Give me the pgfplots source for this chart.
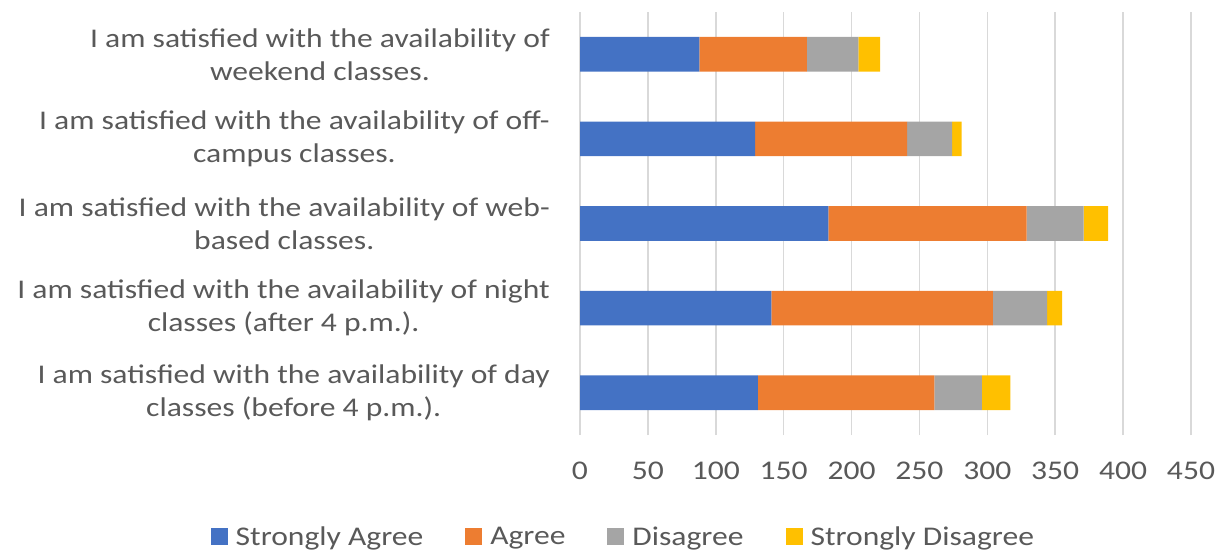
\documentclass[border=0pt]{standalone}
\usepackage{fontspec}
\setmainfont{Carlito}[FakeStretch=1.17]
\usepackage{pgfplots}
\pgfplotsset{compat=1.18}
\definecolor{cA}{HTML}{4472C4}
\definecolor{cB}{HTML}{ED7D31}
\definecolor{cC}{HTML}{A5A5A5}
\definecolor{cD}{HTML}{FFC000}
\definecolor{txt}{HTML}{595959}
\definecolor{grd}{HTML}{D9D9D9}
\begin{document}
\begin{tikzpicture}
\useasboundingbox (0,0) rectangle (1228bp,552bp);
\begin{axis}[
  at={(580bp,117bp)}, anchor=south west,
  scale only axis, width=611bp, height=423bp,
  xbar stacked, bar width=0.41,
  xmin=0, xmax=450, ymin=-0.5, ymax=4.5,
  xtick={0,50,...,450},
  ytick={0,1,2,3,4},
  yticklabels={
    {I am satisfied with the availability of day\\classes (before 4 p.m.).},
    {I am satisfied with the availability of night\\classes (after 4 p.m.).},
    {I am satisfied with the availability of web-\\based classes.},
    {I am satisfied with the availability of off-\\campus classes.},
    {I am satisfied with the availability of\\weekend classes.}},
  /pgf/number format/assume math mode=true,
  font=\fontsize{27bp}{33bp}\selectfont,
  every tick label/.append style={text=txt},
  yticklabel style={align=center, anchor=east, inner sep=0pt, xshift=-30bp},
  xticklabel style={anchor=north, inner sep=0pt, yshift=-27bp},
  axis line style={draw=none},
  tick style={draw=none},
  xmajorgrids, ymajorgrids=false,
  major grid style={grd, line width=1.5bp},
  legend columns=4,
  legend style={draw=none, fill=none, at={(axis description cs:0.071,-0.241)}, anchor=center,
    font=\fontsize{27bp}{33bp}\selectfont, text=txt,
    /tikz/every even column/.append style={column sep=40bp}},
  legend image code/.code={\fill[#1] (0bp,-8bp) rectangle (17bp,9bp); \path (23bp,0bp);},
  every axis plot/.append style={draw=none},
]
\addplot[fill=cA] coordinates {(131,0) (141,1) (183,2) (129,3) (88,4)};
\addplot[fill=cB] coordinates {(130,0) (163,1) (146,2) (112,3) (79,4)};
\addplot[fill=cC] coordinates {(35,0) (40,1) (42,2) (33,3) (38,4)};
\addplot[fill=cD] coordinates {(21,0) (11,1) (18,2) (7,3) (16,4)};
\legend{Strongly Agree, Agree, Disagree, Strongly Disagree}
\end{axis}
\end{tikzpicture}
\end{document}
